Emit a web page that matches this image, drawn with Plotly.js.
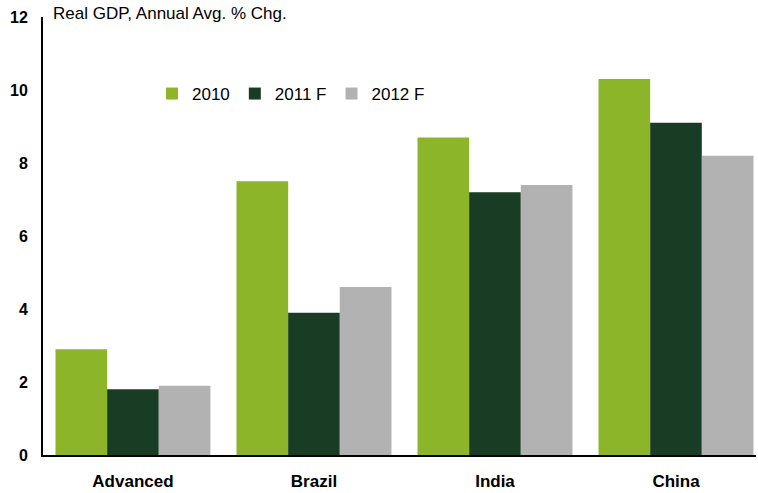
<!DOCTYPE html>
<html>
<head>
<meta charset="utf-8">
<script src="https://cdn.plot.ly/plotly-3.0.1.min.js"></script>
<style>html,body{margin:0;padding:0;background:#fff;}#chart{width:758px;height:493px;}</style>
</head>
<body>
<div id="chart"></div>
<script>
const categories = ["Advanced", "Brazil", "India", "China"];
const seriesNames = ["2010", "2011 F", "2012 F"];
const values2010 = [2.9, 7.5, 8.7, 10.3];
const values2011F = [1.8, 3.9, 7.2, 9.1];
const values2012F = [1.9, 4.6, 7.4, 8.2];
const yTicks = [0, 2, 4, 6, 8, 10, 12];
const colors = ["#8DB52A", "#183D24", "#B2B2B2"];

const allValues = [values2010, values2011F, values2012F];
const traces = allValues.map((v, i) => ({
  type: "bar",
  name: seriesNames[i],
  x: categories,
  y: v,
  marker: {color: colors[i], line: {width: 0}},
  hoverinfo: "x+y+name"
}));

const font = "Liberation Sans, Arial, sans-serif";
const layout = {
  width: 758, height: 493,
  margin: {l: 43, r: 2, t: 17, b: 38, pad: 0},
  paper_bgcolor: "#ffffff",
  plot_bgcolor: "#ffffff",
  barmode: "group",
  bargap: 0.144,
  bargroupgap: 0,
  font: {family: font, color: "#000"},
  xaxis: {
    range: [-0.497, 3.442],
    showline: true, linecolor: "#000", linewidth: 2,
    ticks: "", showgrid: false, zeroline: false,
    tickfont: {family: font, size: 17, weight: "bold"},
    ticklabelstandoff: 10
  },
  yaxis: {
    range: [0, 12],
    tickvals: yTicks,
    ticktext: yTicks.map(String),
    showline: true, linecolor: "#000", linewidth: 2,
    ticks: "", showgrid: false, zeroline: false,
    tickfont: {family: font, size: 16, weight: "bold"},
    ticklabelstandoff: 10
  },
  showlegend: true,
  legend: {
    orientation: "h",
    x: (152 - 43) / 713, y: (455 - 94) / 438, xanchor: "left", yanchor: "middle",
    font: {family: font, size: 17, color: "#000"},
    bgcolor: "rgba(0,0,0,0)",
    itemwidth: 30,
    tracegroupgap: 0
  },
  annotations: [{
    xref: "paper", yref: "paper",
    x: (51 - 43) / 713, y: 1 + (17 - 14) / 438,
    xanchor: "left", yanchor: "middle",
    text: "Real GDP, Annual Avg. % Chg.",
    showarrow: false,
    font: {family: font, size: 17, color: "#000"}
  }]
};

Plotly.newPlot("chart", traces, layout, {displayModeBar: false, staticPlot: true});
</script>
</body>
</html>
